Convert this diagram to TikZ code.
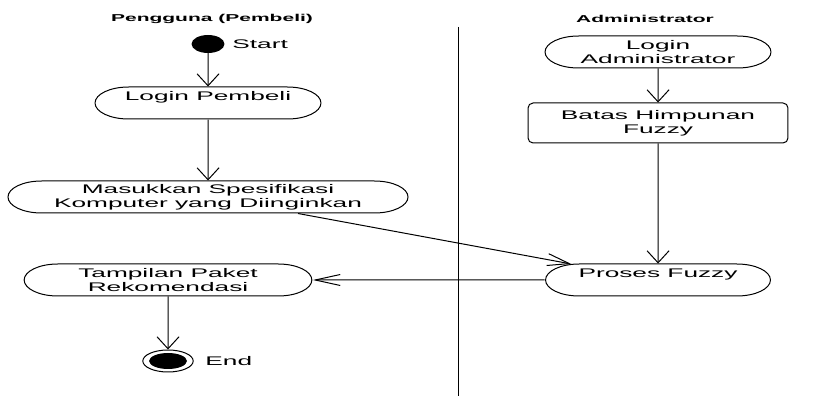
\documentclass[tikz,border=0pt]{standalone}
\usepackage{fontspec}
\setmainfont{Liberation Sans}
\usetikzlibrary{arrows.meta, positioning, shapes.geometric, shapes.misc, calc}

\tikzset{
  activity/.style={rounded rectangle, draw, line width=1pt, inner sep=0pt, align=center,
    font=\fontsize{12.5}{14}\selectfont, minimum height=32pt},
  toptext/.style={text height=9pt, text depth=13.5pt},
  flow/.style={line width=1pt, -{Straight Barb[length=12pt, width=22pt]}},
  lane/.style={font=\fontsize{10}{12}\selectfont\bfseries},
}

\begin{document}
\begin{tikzpicture}[x=0.47619pt, y=-1pt, xscale=2.1, transform shape]
      \useasboundingbox (0,0) rectangle (817,396);

      \node[lane] (pengguna) at (212,19) {Pengguna (Pembeli)};
      \node[lane] (admin) at (645,19) {Administrator};
      \draw[line width=1pt] (458,27) -- (458,396);

      \node[ellipse, fill=black, inner sep=0pt, minimum width=15.7pt, minimum height=18pt] (start) at (208,44) {};
      \node[right, inner sep=0pt, font=\fontsize{12.5}{14}\selectfont] (startlbl) at (232,44) {Start};
      \node[activity, toptext, minimum width=107.6pt] (loginp) at (208,103) {Login Pembeli};
      \node[activity, minimum width=190.5pt] (masuk) at (208,197) {Masukkan Spesifikasi\\Komputer yang Diinginkan};
      \node[activity, minimum width=137pt] (tampil) at (168,280) {Tampilan Paket\\Rekomendasi};
      \node[ellipse, draw, line width=1pt, inner sep=0pt, minimum width=24pt, minimum height=22pt] (end) at (168,361) {};
      \node[ellipse, fill=black, inner sep=0pt, minimum width=18pt, minimum height=16pt] (endin) at (end) {};
      \node[right, inner sep=0pt, font=\fontsize{12.5}{14}\selectfont] (endlbl) at (205,361) {End};

      \node[activity, minimum width=107.6pt] (logina) at (658,52) {Login\\Administrator};
      \node[draw, rounded corners=5pt, line width=1pt, align=center, inner sep=0pt,
        font=\fontsize{12.5}{14}\selectfont, minimum width=123.8pt, minimum height=40pt] (batas) at (658,123) {Batas Himpunan\\Fuzzy};
      \node[activity, toptext, minimum width=107.1pt] (proses) at (658,280) {Proses Fuzzy};

      \draw[flow] (start) -- (loginp);
      \draw[flow] (loginp) -- (masuk);
      \draw[flow] (logina) -- (batas);
      \draw[flow] (batas) -- (proses);
      \draw[flow, -{Straight Barb[length=22pt, width=12pt]}] ($(masuk.south)+(90,0)$) -- (proses);
      \draw[flow, -{Straight Barb[length=25pt, width=11pt]}] (proses) -- (tampil);
      \draw[flow] (tampil) -- (end);
    \end{tikzpicture}
\end{document}
